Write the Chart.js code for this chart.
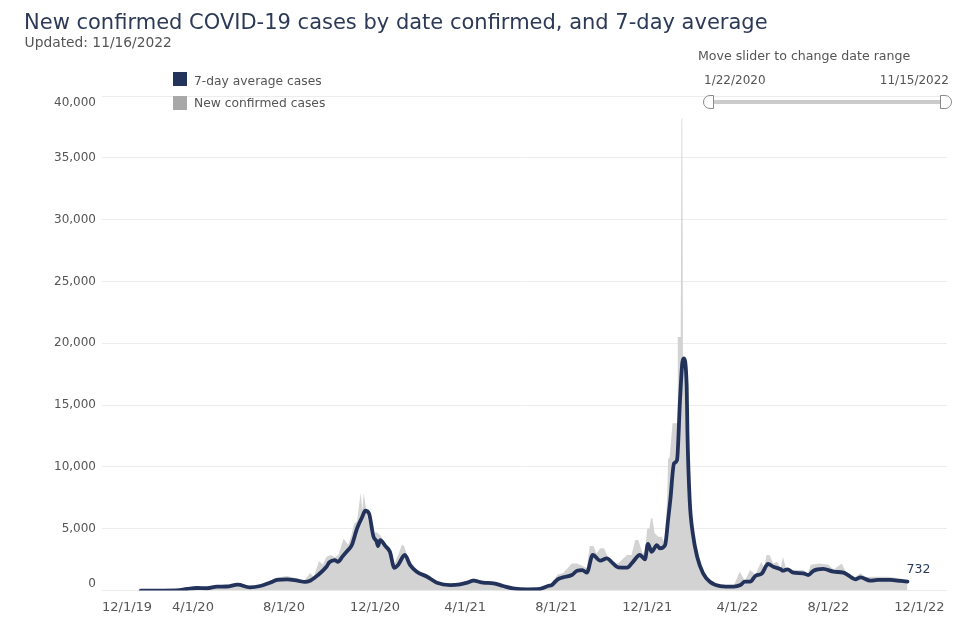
<!DOCTYPE html>
<html>
<head>
<meta charset="utf-8">
<script src="https://cdn.jsdelivr.net/npm/chart.js@4.4.1/dist/chart.umd.min.js"></script>
<style>
  html, body { margin: 0; padding: 0; background: #fff; }
  #wrap { position: relative; width: 980px; height: 632px; overflow: hidden; font-family: "DejaVu Sans", sans-serif; }
  #c { position: absolute; left: 0; top: 0; }
  .t { position: absolute; white-space: nowrap; }
  #title { left: 24px; top: 11.5px; font-size: 21px; line-height: 21px; color: #2d3a57; }
  #sub { left: 24.6px; top: 35.6px; font-size: 13.8px; line-height: 13.8px; color: #555; }
  .lg { font-size: 12.3px; line-height: 12.3px; color: #555; left: 194px; }
  .sw { position: absolute; left: 173px; width: 14px; height: 14px; }
  #sl-t { left: 698px; top: 50px; font-size: 12.6px; line-height: 12.6px; color: #555; }
  .sd { top: 74.2px; font-size: 12px; line-height: 12px; color: #555; }
  #track { position: absolute; left: 713px; top: 99.5px; width: 227px; height: 4.5px; background: #cbcbcb; }
  .hd { position: absolute; top: 95px; height: 13.5px; box-sizing: border-box; border: 1px solid #8a8a8a; background: #fff; }
</style>
</head>
<body>
<div id="wrap">
  <canvas id="c" width="980" height="632"></canvas>
  <div class="t" id="title">New confirmed COVID-19 cases by date confirmed, and 7-day average</div>
  <div class="t" id="sub">Updated: 11/16/2022</div>
  <div class="sw" style="top:72px;background:#23335a"></div>
  <div class="t lg" style="top:74.6px">7-day average cases</div>
  <div class="sw" style="top:95.5px;background:#a8a8a8"></div>
  <div class="t lg" style="top:97.3px">New confirmed cases</div>
  <div class="t" id="sl-t">Move slider to change date range</div>
  <div class="t sd" style="left:704px">1/22/2020</div>
  <div class="t sd" style="right:31px">11/15/2022</div>
  <div id="track"></div>
  <div class="hd" style="left:703px;width:11px;border-radius:7px 0 0 7px"></div>
  <div class="hd" style="left:939.5px;width:12px;border-radius:0 7px 7px 0"></div>
</div>
<script>
// ---- axis range and tick labels ----
const axisStart = "2019-12-01";
const axisEnd = "2023-01-07";
const tickDates = ["2019-12-01","2020-04-01","2020-08-01","2020-12-01","2021-04-01","2021-08-01","2021-12-01","2022-04-01","2022-08-01","2022-12-01"];
const tickLabels = ["12/1/19","4/1/20","8/1/20","12/1/20","4/1/21","8/1/21","12/1/21","4/1/22","8/1/22","12/1/22"];
const yTicks = [0,5000,10000,15000,20000,25000,30000,35000,40000];

// ---- 7-day average cases ----
const avgDates = ["2020-01-22","2020-03-10","2020-03-24","2020-04-06","2020-04-20","2020-05-03","2020-05-16","2020-05-31","2020-06-16","2020-06-30","2020-07-13","2020-07-23","2020-08-05","2020-08-19","2020-08-29","2020-09-05","2020-09-15","2020-09-27","2020-10-01","2020-10-08","2020-10-12","2020-10-19","2020-10-26","2020-10-31","2020-11-07","2020-11-14","2020-11-18","2020-11-23","2020-11-29","2020-12-03","2020-12-05","2020-12-08","2020-12-15","2020-12-21","2020-12-27","2021-01-01","2021-01-10","2021-01-17","2021-01-26","2021-02-09","2021-02-22","2021-03-12","2021-03-25","2021-04-04","2021-04-12","2021-04-25","2021-05-09","2021-05-22","2021-06-04","2021-06-23","2021-07-10","2021-07-21","2021-07-26","2021-08-03","2021-08-10","2021-08-22","2021-08-29","2021-09-05","2021-09-11","2021-09-19","2021-09-29","2021-10-08","2021-10-16","2021-10-23","2021-11-04","2021-11-12","2021-11-21","2021-11-25","2021-11-28","2021-12-02","2021-12-07","2021-12-14","2021-12-18","2021-12-25","2021-12-29","2022-01-01","2022-01-06","2022-01-10","2022-01-14","2022-01-17","2022-01-19","2022-01-23","2022-01-24","2022-01-27","2022-01-31","2022-02-06","2022-02-14","2022-02-23","2022-03-09","2022-03-27","2022-04-05","2022-04-11","2022-04-18","2022-04-25","2022-05-04","2022-05-12","2022-05-19","2022-05-29","2022-06-01","2022-06-07","2022-06-15","2022-06-28","2022-07-05","2022-07-12","2022-07-25","2022-08-08","2022-08-21","2022-08-27","2022-09-06","2022-09-13","2022-09-26","2022-10-06","2022-10-23","2022-11-06","2022-11-15"];
const avgValues = [0,20,130,210,190,320,330,480,265,370,640,860,910,800,700,800,1230,1930,2300,2470,2330,2800,3280,3680,5030,5970,6460,6240,4360,4000,3600,4090,3600,3140,1830,2070,2880,2070,1530,1120,640,450,500,640,800,640,590,370,185,100,130,370,450,910,1070,1260,1610,1660,1450,2880,2420,2610,2210,1880,1850,2330,2880,2690,2530,3770,3140,3680,3420,3680,5700,7320,10290,10550,15400,18370,18770,16480,12710,7300,4700,2740,1400,720,370,320,450,720,720,1180,1400,2150,1930,1720,1610,1720,1450,1400,1260,1610,1750,1530,1450,1260,910,1070,800,860,860,780,732];

// ---- new confirmed cases, daily envelope ----
const newDates = ["2020-01-22","2020-03-10","2020-03-24","2020-04-06","2020-04-20","2020-05-03","2020-05-16","2020-05-31","2020-06-16","2020-06-30","2020-07-13","2020-07-23","2020-08-05","2020-08-19","2020-08-29","2020-09-05","2020-09-10","2020-09-17","2020-09-22","2020-09-27","2020-10-03","2020-10-08","2020-10-13","2020-10-20","2020-10-26","2020-10-30","2020-11-03","2020-11-07","2020-11-10","2020-11-12","2020-11-14","2020-11-16","2020-11-18","2020-11-21","2020-11-25","2020-11-27","2020-12-02","2020-12-08","2020-12-14","2020-12-21","2020-12-27","2021-01-02","2021-01-06","2021-01-09","2021-01-14","2021-01-20","2021-01-26","2021-02-09","2021-02-22","2021-03-12","2021-03-25","2021-04-04","2021-04-12","2021-04-25","2021-05-09","2021-05-22","2021-06-04","2021-06-23","2021-07-10","2021-07-21","2021-07-26","2021-08-03","2021-08-10","2021-08-22","2021-08-29","2021-09-05","2021-09-11","2021-09-15","2021-09-20","2021-09-24","2021-09-29","2021-10-04","2021-10-08","2021-10-13","2021-10-23","2021-11-04","2021-11-10","2021-11-15","2021-11-19","2021-11-25","2021-11-28","2021-12-01","2021-12-04","2021-12-06","2021-12-08","2021-12-11","2021-12-16","2021-12-20","2021-12-25","2021-12-28","2021-12-29","2021-12-31","2022-01-04","2022-01-08","2022-01-10","2022-01-11","2022-01-15","2022-01-16","2022-01-17","2022-01-18","2022-01-23","2022-01-27","2022-01-31","2022-02-06","2022-02-14","2022-02-23","2022-03-09","2022-03-27","2022-04-04","2022-04-11","2022-04-18","2022-04-25","2022-05-03","2022-05-07","2022-05-10","2022-05-14","2022-05-19","2022-05-24","2022-05-29","2022-06-01","2022-06-05","2022-06-10","2022-06-28","2022-07-05","2022-07-08","2022-07-20","2022-08-01","2022-08-08","2022-08-19","2022-08-25","2022-09-06","2022-09-13","2022-09-20","2022-10-01","2022-10-20","2022-11-05","2022-11-15"];
const newValues = [0,30,170,260,230,380,400,580,330,470,800,1050,1180,980,860,1420,1100,2400,2100,2740,2880,2700,2900,4200,3700,4400,5400,5600,7080,7890,6500,7890,7000,5970,5000,4100,4760,4500,3900,3400,2200,3000,3700,3600,2740,2200,1700,1250,750,550,620,800,1000,760,700,450,250,150,180,450,600,1300,1400,2200,2200,2000,1800,3600,3600,3000,3420,3420,2900,2200,2200,2880,2880,4090,4090,3000,3200,5030,5030,5840,5840,4630,4360,4360,3800,8000,10690,10700,13540,13540,13540,20500,20500,38200,38200,18800,16000,7500,4800,2900,1500,800,420,380,1530,800,1660,1300,2330,1800,2880,2880,2200,2330,1800,2740,1800,1660,1660,1400,2100,2200,2100,1700,2200,1400,1100,1400,1100,1120,1120,1000,800];

const DAY = 86400000;
const dayOf = s => (Date.parse(s + "T00:00:00Z") - Date.parse(axisStart + "T00:00:00Z")) / DAY;
const fmt = v => v.toLocaleString("en-US");

const endLabel = {
  id: "endLabel",
  afterDatasetsDraw(chart) {
    const meta = chart.getDatasetMeta(0);
    const pt = meta.data[meta.data.length - 1];
    const ctx = chart.ctx;
    ctx.save();
    ctx.font = "12.5px 'DejaVu Sans'";
    ctx.fillStyle = "#2b3b5e";
    ctx.textAlign = "left";
    ctx.textBaseline = "middle";
    ctx.fillText(String(avgValues[avgValues.length - 1]), pt.x - 1, pt.y - 12);
    ctx.restore();
  }
};

Chart.defaults.font.family = "'DejaVu Sans', sans-serif";

new Chart(document.getElementById("c"), {
  type: "line",
  data: {
    datasets: [
      {
        label: "7-day average cases",
        data: avgDates.map((d, i) => ({ x: dayOf(d), y: avgValues[i] })),
        borderColor: "#22325a",
        borderWidth: 3.8,
        pointRadius: 0,
        cubicInterpolationMode: "monotone",
        fill: false,
        borderJoinStyle: "round",
        borderCapStyle: "round"
      },
      {
        label: "New confirmed cases",
        data: newDates.map((d, i) => ({ x: dayOf(d), y: newValues[i] })),
        borderWidth: 0,
        borderColor: "rgba(0,0,0,0)",
        backgroundColor: "#d3d3d3",
        pointRadius: 0,
        tension: 0,
        fill: "origin"
      }
    ]
  },
  options: {
    responsive: false,
    animation: false,
    devicePixelRatio: 1,
    layout: { padding: { top: 96, right: 33, left: 0, bottom: 0 } },
    plugins: { legend: { display: false }, tooltip: { enabled: false } },
    scales: {
      x: {
        type: "linear",
        min: dayOf(axisStart),
        max: dayOf(axisEnd),
        grid: { display: false, drawTicks: false },
        border: { display: false },
        afterBuildTicks: s => {
          s.ticks = tickDates.map(d => ({ value: dayOf(d) })).concat([{ value: dayOf(axisEnd) }]);
        },
        afterFit: s => { s.height = 41.4; s.paddingLeft = 0; s.paddingRight = 0; },
        ticks: {
          autoSkip: false,
          maxRotation: 0,
          minRotation: 0,
          align: "inner",
          padding: 9,
          color: "#555",
          font: { size: 13 },
          callback: (v, i) => (i < tickLabels.length ? tickLabels[i] : "")
        }
      },
      y: {
        min: 0,
        max: 40000,
        grid: { color: "#ececec", drawTicks: false, lineWidth: 1 },
        border: { display: false },
        afterBuildTicks: s => { s.ticks = yTicks.map(v => ({ value: v })); },
        afterFit: s => { s.width = 102; s.paddingTop = 0; s.paddingBottom = 0; },
        ticks: {
          padding: 6,
          color: "#555",
          font: { size: 12 },
          callback: (v, i) => {
            if (i === 0) return [fmt(v), ""];
            if (i === yTicks.length - 1) return ["", fmt(v)];
            return fmt(v);
          }
        }
      }
    }
  },
  plugins: [endLabel]
});
</script>
</body>
</html>
